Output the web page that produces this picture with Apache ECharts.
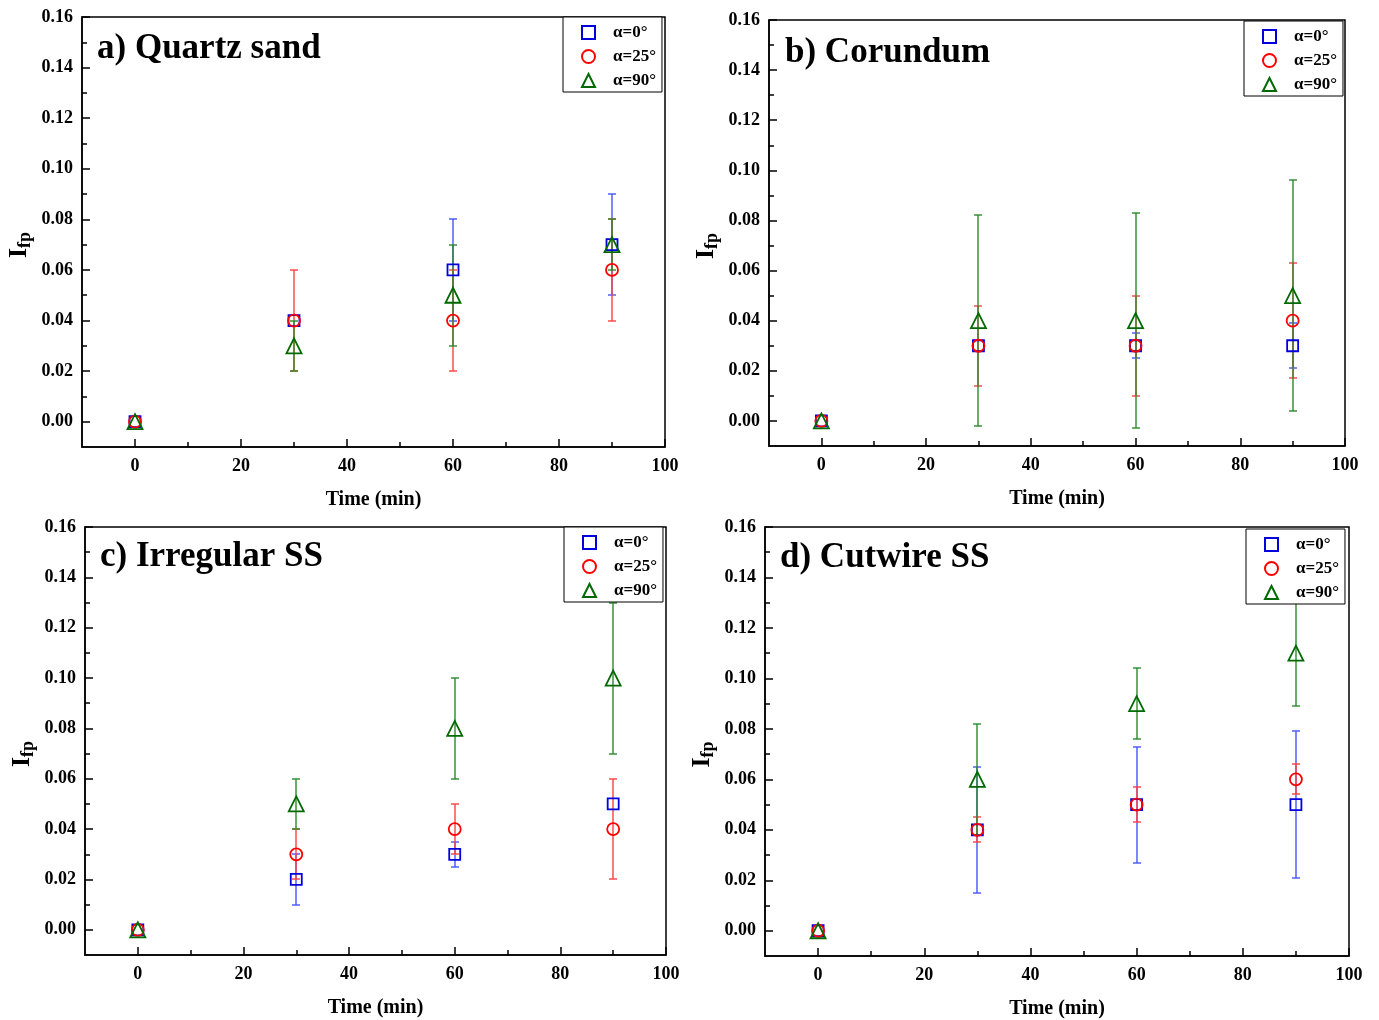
<!DOCTYPE html>
<html><head><meta charset="utf-8">
<script src="https://cdn.jsdelivr.net/npm/echarts@6/dist/echarts.min.js"></script>
<style>html,body{margin:0;padding:0;background:#fff}#c{width:1379px;height:1020px}</style>
</head><body><div id="c"></div>
<script>
// ---- data ----
const times = [0, 30, 60, 90];
const xTicks = [0, 20, 40, 60, 80, 100];
const xMinorTicks = [10, 30, 50, 70, 90];
const yTicks = [0, 0.02, 0.04, 0.06, 0.08, 0.10, 0.12, 0.14, 0.16];
const yMinorTicks = [0.01, 0.03, 0.05, 0.07, 0.09, 0.11, 0.13, 0.15];
const seriesNames = ['α=0°', 'α=25°', 'α=90°'];
const panelTitles = ['a) Quartz sand', 'b) Corundum', 'c) Irregular SS', 'd) Cutwire SS'];

// a) Quartz sand
const quartzMean0  = [0, 0.04, 0.06, 0.07];
const quartzErr0   = [0, 0, 0.02, 0.02];
const quartzMean25 = [0, 0.04, 0.04, 0.06];
const quartzErr25  = [0, 0.02, 0.02, 0.02];
const quartzMean90 = [0, 0.03, 0.05, 0.07];
const quartzErr90  = [0, 0.01, 0.02, 0.01];

// b) Corundum
const corundumMean0  = [0, 0.03, 0.03, 0.03];
const corundumErr0   = [0, 0, 0.005, 0.009];
const corundumMean25 = [0, 0.03, 0.03, 0.04];
const corundumErr25  = [0, 0.016, 0.02, 0.023];
const corundumMean90 = [0, 0.04, 0.04, 0.05];
const corundumErr90  = [0, 0.042, 0.043, 0.046];

// c) Irregular SS
const irregularMean0  = [0, 0.02, 0.03, 0.05];
const irregularErr0   = [0, 0.01, 0.005, 0];
const irregularMean25 = [0, 0.03, 0.04, 0.04];
const irregularErr25  = [0, 0.01, 0.01, 0.02];
const irregularMean90 = [0, 0.05, 0.08, 0.10];
const irregularErr90  = [0, 0.01, 0.02, 0.03];

// d) Cutwire SS
const cutwireMean0  = [0, 0.04, 0.05, 0.05];
const cutwireErr0   = [0, 0.025, 0.023, 0.029];
const cutwireMean25 = [0, 0.04, 0.05, 0.06];
const cutwireErr25  = [0, 0.005, 0.007, 0.006];
const cutwireMean90 = [0, 0.06, 0.09, 0.11];
const cutwireErr90  = [0, 0.022, 0.014, 0.021];

const panelMeans = [
  [quartzMean0, quartzMean25, quartzMean90],
  [corundumMean0, corundumMean25, corundumMean90],
  [irregularMean0, irregularMean25, irregularMean90],
  [cutwireMean0, cutwireMean25, cutwireMean90]
];
const panelErrs = [
  [quartzErr0, quartzErr25, quartzErr90],
  [corundumErr0, corundumErr25, corundumErr90],
  [irregularErr0, irregularErr25, irregularErr90],
  [cutwireErr0, cutwireErr25, cutwireErr90]
];

// ---- styling / layout ----
const FONT = 'Liberation Serif';
const markerColors = ['#0000dd', '#ff0000', '#006a00'];
const errColors = ['#4455ff', '#ff4040', '#2a8a2a'];
const symbols = ['rect', 'circle', 'triangle'];
const symbolSizes = [11, 12, 15];
const grids = [
  {left: 82, top: 17, width: 583, height: 430},
  {left: 769, top: 20, width: 576, height: 426},
  {left: 85, top: 527, width: 581, height: 428},
  {left: 765, top: 527, width: 584, height: 431}
];
const legendPos = [
  {left: 563, top: 17}, {left: 1244, top: 21}, {left: 564, top: 527}, {left: 1246, top: 529}
];
const titlePos = [
  {left: 97, top: 31}, {left: 785, top: 35}, {left: 100, top: 539}, {left: 780, top: 540}
];

function errRender(params, api) {
  const x = api.value(0), y = api.value(1), e = api.value(2);
  if (!e) return null;
  const t = api.coord([x, y + e]);
  const b = api.coord([x, y - e]);
  const cx = Math.round(t[0]);
  const ty = Math.round(t[1]), by = Math.round(b[1]);
  const w = 4;
  const style = {stroke: api.visual('color'), lineWidth: 1.4};
  return {type: 'group', children: [
    {type: 'line', shape: {x1: cx, y1: ty, x2: cx, y2: by}, style: style},
    {type: 'line', shape: {x1: cx - w, y1: ty, x2: cx + w, y2: ty}, style: style},
    {type: 'line', shape: {x1: cx - w, y1: by, x2: cx + w, y2: by}, style: style}
  ]};
}

const xAxis = [], yAxis = [], series = [], legend = [], title = [];
const labelStyle = {fontFamily: FONT, fontWeight: 'bold', fontSize: 18, color: '#000'};

grids.forEach((g, i) => {
  xAxis.push({
    gridIndex: i, type: 'value', min: -10, max: 100, position: 'bottom',
    name: 'Time (min)', nameLocation: 'middle', nameGap: 43,
    nameTextStyle: {fontFamily: FONT, fontWeight: 'bold', fontSize: 20, color: '#000'},
    axisLine: {show: true, onZero: false, lineStyle: {color: '#000', width: 1.5}},
    axisTick: {show: true, inside: true, length: 8, customValues: xTicks, lineStyle: {color: '#000', width: 1.5}},
    axisLabel: Object.assign({customValues: xTicks, margin: 10, formatter: v => String(v)}, labelStyle),
    splitLine: {show: false}
  });
  xAxis.push({
    gridIndex: i, type: 'value', min: -10, max: 100, position: 'bottom',
    axisLine: {show: false, onZero: false},
    axisTick: {show: true, inside: true, length: 5, customValues: xMinorTicks, lineStyle: {color: '#000', width: 1.5}},
    axisLabel: {show: false, customValues: xMinorTicks},
    splitLine: {show: false}
  });
  yAxis.push({
    gridIndex: i, type: 'value', min: -0.01, max: 0.16, position: 'left',
    name: '{a|I}{b|fp}', nameLocation: 'middle', nameGap: 48, nameRotate: 90,
    nameTextStyle: {
      color: '#000', padding: [0, 26, 0, 0],
      rich: {
        a: {fontFamily: FONT, fontWeight: 'bold', fontSize: 26, color: '#000'},
        b: {fontFamily: FONT, fontWeight: 'bold', fontSize: 18, color: '#000', padding: [12, 0, 0, 0]}
      }
    },
    axisLine: {show: true, onZero: false, lineStyle: {color: '#000', width: 1.5}},
    axisTick: {show: true, inside: true, length: 8, customValues: yTicks, lineStyle: {color: '#000', width: 1.5}},
    axisLabel: Object.assign({customValues: yTicks, margin: 9, formatter: v => v.toFixed(2)}, labelStyle),
    splitLine: {show: false}
  });
  yAxis.push({
    gridIndex: i, type: 'value', min: -0.01, max: 0.16, position: 'left',
    axisLine: {show: false, onZero: false},
    axisTick: {show: true, inside: true, length: 5, customValues: yMinorTicks, lineStyle: {color: '#000', width: 1.5}},
    axisLabel: {show: false, customValues: yMinorTicks},
    splitLine: {show: false}
  });
  for (let s = 0; s < 3; s++) {
    const means = panelMeans[i][s], errs = panelErrs[i][s];
    series.push({
      type: 'custom', name: seriesNames[s] + ' err' + i, xAxisIndex: 2 * i, yAxisIndex: 2 * i,
      renderItem: errRender, z: 1 + s, silent: true,
      itemStyle: {color: errColors[s]},
      encode: {x: 0, y: 1},
      data: times.map((t, k) => [t, means[k], errs[k]])
    });
  }
  for (let s = 0; s < 3; s++) {
    const means = panelMeans[i][s];
    series.push({
      type: 'scatter', name: seriesNames[s], xAxisIndex: 2 * i, yAxisIndex: 2 * i,
      symbol: symbols[s], symbolSize: symbolSizes[s], z: 10 + s,
      itemStyle: {color: 'rgba(255,255,255,0)', borderColor: markerColors[s], borderWidth: 1.8, opacity: 1},
      emphasis: {disabled: true},
      data: times.map((t, k) => [t, means[k]])
    });
  }
  legend.push({
    left: legendPos[i].left, top: legendPos[i].top, orient: 'vertical',
    data: seriesNames, selectedMode: false,
    backgroundColor: '#fff', borderColor: '#000', borderWidth: 1,
    padding: [7, 6, 3, 18], itemGap: 7, itemWidth: 13, itemHeight: 13,
    textStyle: {fontFamily: FONT, fontWeight: 'bold', fontSize: 17, color: '#000', padding: [0, 0, 0, 13]}
  });
  title.push({
    text: panelTitles[i], left: titlePos[i].left, top: titlePos[i].top, padding: 0,
    textStyle: {fontFamily: FONT, fontWeight: 'bold', fontSize: 35, color: '#000'}
  });
});

const chart = echarts.init(document.getElementById('c'), null, {renderer: 'canvas'});
chart.setOption({
  animation: false,
  backgroundColor: '#fff',
  title: title,
  legend: legend,
  grid: grids.map(g => Object.assign({show: true, borderColor: '#000', borderWidth: 1.5, backgroundColor: 'transparent'}, g)),
  xAxis: xAxis,
  yAxis: yAxis,
  series: series
});
</script>
</body></html>
